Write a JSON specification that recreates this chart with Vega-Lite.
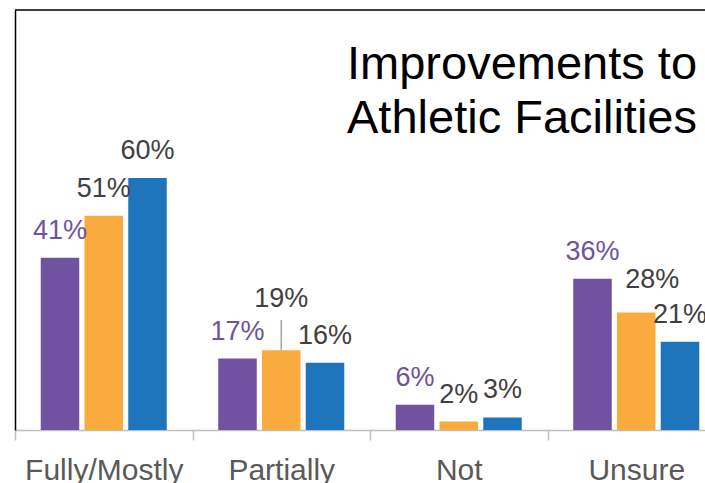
{
  "$schema": "https://vega.github.io/schema/vega-lite/v6.json",
  "width": 690,
  "height": 420,
  "autosize": {"type": "none"},
  "padding": {"left": 15, "top": 10, "right": 0, "bottom": 53},
  "background": "white",
  "view": {"stroke": null},
  "title": {
    "text": ["Improvements to", "Athletic Facilities"],
    "anchor": "start",
    "frame": "group",
    "orient": "top",
    "offset": 0,
    "dx": 332,
    "dy": 171,
    "baseline": "alphabetic",
    "font": "Liberation Sans",
    "fontSize": 47,
    "fontWeight": "normal",
    "lineHeight": 54,
    "color": "#000000"
  },
  "data": {
    "values": [
      {"category": "Fully/Mostly", "series": "S1", "value": 0.41},
      {"category": "Fully/Mostly", "series": "S2", "value": 0.51},
      {"category": "Fully/Mostly", "series": "S3", "value": 0.60},
      {"category": "Partially", "series": "S1", "value": 0.17},
      {"category": "Partially", "series": "S2", "value": 0.19},
      {"category": "Partially", "series": "S3", "value": 0.16},
      {"category": "Not", "series": "S1", "value": 0.06},
      {"category": "Not", "series": "S2", "value": 0.02},
      {"category": "Not", "series": "S3", "value": 0.03},
      {"category": "Unsure", "series": "S1", "value": 0.36},
      {"category": "Unsure", "series": "S2", "value": 0.28},
      {"category": "Unsure", "series": "S3", "value": 0.21}
    ]
  },
  "layer": [
    {
      "encoding": {
        "x": {
          "field": "category",
          "type": "nominal",
          "sort": ["Fully/Mostly", "Partially", "Not", "Unsure"],
          "scale": {"range": [0, 710], "paddingInner": 0.29, "paddingOuter": 0.145},
          "axis": {
            "title": null,
            "labelAngle": 0,
            "tickOffset": -88.75,
            "labelOffset": 88.75,
            "tickSize": 10,
            "tickColor": "#bfbfbf",
            "tickWidth": 1.5,
            "domainColor": "#bfbfbf",
            "domainWidth": 1.5,
            "labelFont": "Liberation Sans",
            "labelFontSize": 30,
            "labelColor": "#595959",
            "labelBaseline": "alphabetic",
            "labelPadding": 39
          }
        },
        "xOffset": {
          "field": "series",
          "type": "nominal",
          "scale": {"paddingInner": 0.12, "paddingOuter": 0}
        },
        "y": {
          "field": "value",
          "type": "quantitative",
          "scale": {"domain": [0, 1]},
          "axis": {"title": null, "labels": false, "ticks": false, "grid": false, "domainColor": "#000000", "domainWidth": 1.5}
        }
      },
      "layer": [
        {
          "mark": {"type": "bar", "clip": true},
          "encoding": {
            "color": {
              "field": "series",
              "type": "nominal",
              "scale": {"domain": ["S1", "S2", "S3"], "range": ["#7052A0", "#FAAB3D", "#1F75BC"]},
              "legend": null
            }
          }
        },
        {
          "transform": [{"filter": "!(datum.category === 'Partially' && datum.series === 'S2') && !(datum.category === 'Unsure' && datum.series === 'S2')"}],
          "mark": {"type": "text", "clip": true, "baseline": "alphabetic", "dy": -19, "font": "Liberation Sans", "fontSize": 27},
          "encoding": {
            "text": {"field": "value", "type": "quantitative", "format": ".0%"},
            "color": {"condition": {"test": "datum.series === 'S1'", "value": "#7052A0"}, "value": "#404040"}
          }
        },
        {
          "transform": [{"filter": "datum.category === 'Partially' && datum.series === 'S2'"}],
          "mark": {"type": "text", "clip": true, "baseline": "alphabetic", "dy": -43, "font": "Liberation Sans", "fontSize": 27, "color": "#404040"},
          "encoding": {
            "text": {"field": "value", "type": "quantitative", "format": ".0%"}
          }
        },
        {
          "transform": [{"filter": "datum.category === 'Unsure' && datum.series === 'S2'"}],
          "mark": {"type": "text", "clip": true, "baseline": "alphabetic", "dx": 16, "dy": -24, "font": "Liberation Sans", "fontSize": 27, "color": "#404040"},
          "encoding": {
            "text": {"field": "value", "type": "quantitative", "format": ".0%"}
          }
        },
        {
          "transform": [{"filter": "datum.category === 'Partially' && datum.series === 'S2'"}],
          "mark": {"type": "rule", "color": "#a6a6a6", "strokeWidth": 1.5},
          "encoding": {
            "y2": {"datum": 0.262}
          }
        }
      ]
    },
    {
      "data": {"values": [{"edge": "top"}]},
      "mark": {"type": "rule", "color": "#000000", "strokeWidth": 1.5},
      "encoding": {
        "y": {"datum": 1, "type": "quantitative"}
      }
    }
  ]
}
